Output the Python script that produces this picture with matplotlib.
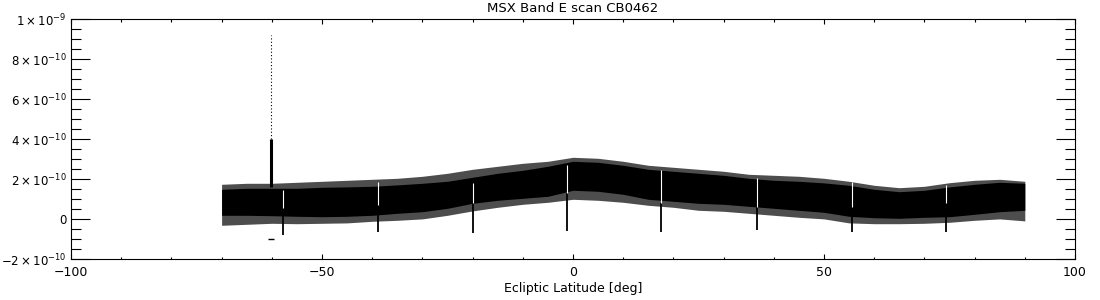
import numpy as np
import matplotlib
matplotlib.use("Agg")
import matplotlib.pyplot as plt
from matplotlib.ticker import MultipleLocator, FixedLocator, FixedFormatter

# scan envelope, units of 1e-10, every 5 deg
lat = [-70, -65, -60, -55, -50, -45, -40, -35, -30, -25, -20, -15, -10, -5, 0, 5,
       10, 15, 20, 25, 30, 35, 40, 45, 50, 55, 60, 65, 70, 75, 80, 85, 90]
core_hi = [1.50, 1.55, 1.55, 1.55, 1.60, 1.62, 1.65, 1.72, 1.80, 1.90, 2.10, 2.30, 2.45,
           2.65, 2.90, 2.85, 2.70, 2.50, 2.40, 2.30, 2.20, 2.05, 1.95, 1.90, 1.82, 1.70,
           1.50, 1.38, 1.45, 1.62, 1.75, 1.85, 1.80]
core_lo = [0.20, 0.20, 0.18, 0.15, 0.13, 0.15, 0.20, 0.30, 0.38, 0.55, 0.80, 0.95, 1.05,
           1.15, 1.45, 1.40, 1.25, 1.00, 0.90, 0.80, 0.75, 0.65, 0.55, 0.45, 0.35, 0.15,
           0.08, 0.05, 0.10, 0.13, 0.25, 0.38, 0.45]
outer_hi = [1.75, 1.80, 1.80, 1.85, 1.90, 1.95, 2.00, 2.05, 2.15, 2.30, 2.50, 2.65, 2.80,
            2.90, 3.10, 3.05, 2.90, 2.70, 2.60, 2.50, 2.40, 2.25, 2.20, 2.15, 2.05, 1.90,
            1.70, 1.58, 1.65, 1.83, 1.95, 2.00, 1.90]
outer_lo = [-0.30, -0.25, -0.20, -0.22, -0.20, -0.18, -0.10, -0.05, 0.02, 0.20, 0.42,
            0.60, 0.75, 0.85, 1.00, 0.95, 0.85, 0.70, 0.60, 0.45, 0.40, 0.30, 0.20, 0.10,
            0.02, -0.18, -0.22, -0.22, -0.20, -0.15, -0.05, 0.02, -0.08]

# dips (orbit artefacts) with white gaps in the band above them
dip_lat = [-57.7, -38.8, -20.0, -1.1, 17.6, 36.6, 55.5, 74.3]
dip_min = [-0.78, -0.62, -0.67, -0.57, -0.62, -0.54, -0.62, -0.62]
gap_lo = [0.55, 0.72, 0.80, 1.30, 0.80, 0.63, 0.63, 0.80]
gap_hi = [1.45, 1.88, 1.80, 2.70, 2.46, 2.05, 1.88, 1.70]

# point source spike
spike_lat = -60.2
spike_base = 1.6
spike_dense = 4.0
spike_peak = 9.2
spike_dash = -0.98

ytick_vals = [-2, 0, 2, 4, 6, 8, 10]
ytick_labels = [r'$-2\times10^{-10}$', '0', r'$2\times10^{-10}$', r'$4\times10^{-10}$',
                r'$6\times10^{-10}$', r'$8\times10^{-10}$', r'$1\times10^{-9}$']

S = 1e-10
lat = np.array(lat)

plt.rcParams['font.family'] = ['DejaVu Sans']
plt.rcParams['mathtext.fontset'] = 'dejavusans'

fig = plt.figure(figsize=(11, 3), dpi=100)
ax = fig.add_axes([71 / 1100, 40.7 / 300, 1004 / 1100, 240 / 300])

ax.fill_between(lat, np.array(outer_lo) * S, np.array(outer_hi) * S,
                color='0.3', lw=0)
ax.fill_between(lat, np.array(core_lo) * S, np.array(core_hi) * S,
                color='black', lw=0)

ax.vlines(dip_lat, np.array(dip_min) * S, np.array(gap_lo) * S, color='black', lw=1.3)
ax.vlines(dip_lat, np.array(gap_lo) * S, np.array(gap_hi) * S, color='white', lw=0.8)

ax.vlines(spike_lat, spike_base * S, spike_dense * S, color='black', lw=2.2)
ax.vlines(spike_lat, spike_dense * S, spike_peak * S, color='black', lw=0.8,
          linestyles=(0, (1, 2)))
ax.plot([spike_lat], [spike_dash * S], marker='_', color='black', ms=4, mew=1)

ax.set_xlim(-100, 100)
ax.set_ylim(-2e-10, 1e-9)

ax.xaxis.set_major_locator(MultipleLocator(50))
ax.xaxis.set_minor_locator(MultipleLocator(10))
ax.yaxis.set_major_locator(FixedLocator(np.array(ytick_vals) * S))
ax.yaxis.set_major_formatter(FixedFormatter(ytick_labels))
ax.yaxis.set_minor_locator(MultipleLocator(0.5e-10))

ax.tick_params(which='both', direction='in', top=True, right=True, width=0.8,
               colors='black')
ax.tick_params(axis='x', which='major', length=3.6, pad=5, labelsize=9)
ax.tick_params(axis='x', which='minor', length=1.8)
ax.tick_params(axis='y', which='major', length=13.7, pad=3, labelsize=8.5)
ax.tick_params(axis='y', which='minor', length=7.2)
for sp in ax.spines.values():
    sp.set_linewidth(0.8)

ax.set_title('MSX Band E scan CB0462', fontsize=9.5, pad=5)
ax.set_xlabel('Ecliptic Latitude [deg]', fontsize=9, labelpad=2)

fig.savefig('out.png', dpi=100)
